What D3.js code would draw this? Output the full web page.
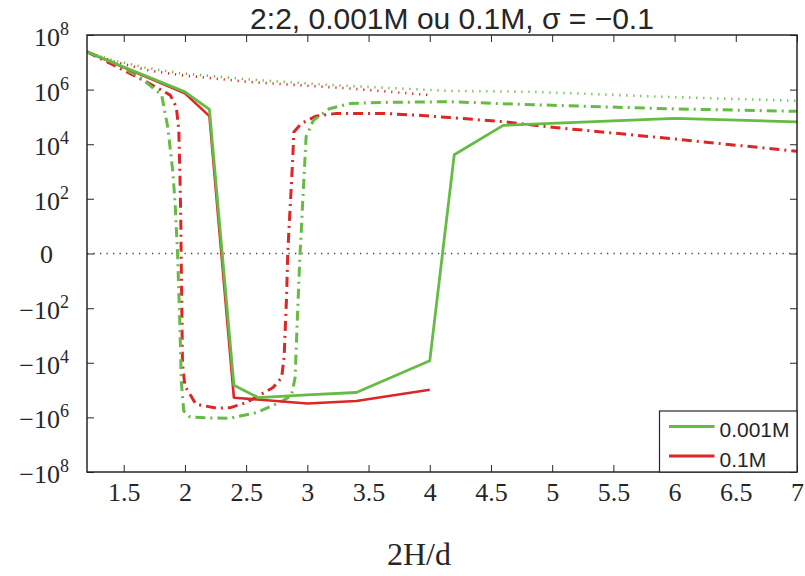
<!DOCTYPE html>
<html><head><meta charset="utf-8">
<script src="https://cdn.jsdelivr.net/npm/d3@7"></script>
<style>
html,body{margin:0;padding:0;background:#fff;}
svg{display:block;}
</style></head>
<body>
<script>
// ---- data ----
const title = "2:2, 0.001M ou 0.1M, \u03C3 = \u22120.1";
const xLabel = "2H/d";
const seriesNames = ["0.001M", "0.1M"];
const xTicks = [1.5, 2, 2.5, 3, 3.5, 4, 4.5, 5, 5.5, 6, 6.5, 7];
const yTicks = [-1e8, -1e6, -1e4, -1e2, 0, 1e2, 1e4, 1e6, 1e8];
const yTickBase = ["\u221210", "\u221210", "\u221210", "\u221210", "0", "10", "10", "10", "10"];
const yTickExp = ["8", "6", "4", "2", "", "2", "4", "6", "8"];

// 0.001M, solid
const xSolidG = [1.2, 2.0, 2.2, 2.4, 2.6, 3.0, 3.4, 4.0, 4.2, 4.6, 6.0, 7.0];
const ySolidG = [2.4e7, 8.3e5, 1.9e5, -6.6e4, -1.9e5, -1.5e5, -1.23e5, -8.5e3, 4.1e3, 4.9e4, 8.8e4, 6.6e4];
// 0.1M, solid
const xSolidR = [1.2, 2.0, 2.2, 2.4, 3.0, 3.4, 4.0];
const ySolidR = [2.4e7, 7.3e5, 1.07e5, -1.9e5, -3.1e5, -2.5e5, -9.8e4];

// 0.001M, dash-dot
const xDashG = [1.2, 1.41, 1.63, 1.81, 1.86, 1.90, 1.92, 1.93, 1.94, 1.96, 1.97, 1.99, 2.04, 2.18, 2.37, 2.59, 2.77, 2.87, 2.90, 2.92, 2.94, 2.95, 2.96, 2.98, 2.99, 3.05, 3.18, 3.35, 3.61, 4.16, 4.85, 5.94, 7.0];
const yDashG = [2.4e7, 1e7, 2.9e6, 6.3e5, 4.2e4, 1.1e3, 68, 7, 0, -670, -4.6e4, -5.8e5, -9.6e5, -1.05e6, -1.07e6, -6.6e5, -2.9e5, -1.6e5, -3.5e4, -160, 0, 4.6, 50, 2.6e3, 1.9e4, 7.6e4, 2e5, 3.1e5, 3.4e5, 3.6e5, 2.8e5, 2e5, 1.6e5];
// 0.1M, dash-dot
const xDashR = [1.2, 1.47, 1.66, 1.80, 1.88, 1.93, 1.95, 1.96, 1.967, 1.969, 1.972, 1.98, 2.0, 2.09, 2.26, 2.37, 2.50, 2.72, 2.79, 2.81, 2.83, 2.84, 2.85, 2.86, 2.88, 2.89, 2.95, 3.07, 3.24, 3.62, 3.89, 4.16, 4.6, 5.0, 5.94, 7.0];
const yDashR = [2.4e7, 6e6, 2.2e6, 1e6, 6.3e5, 2.3e5, 3.3e4, 480, 9, 0, -10, -1.1e4, -7e4, -3.3e5, -4.6e5, -4.4e5, -2.9e5, -8.1e4, -3.5e4, -6.4e3, -40, 0, 7, 50, 2.6e3, 2.8e4, 5.7e4, 1.07e5, 1.35e5, 1.35e5, 1.16e5, 9.5e4, 6.7e4, 4.2e4, 1.66e4, 5.5e3];

// 0.001M, dotted
const xDotG = [1.2, 1.41, 1.69, 1.96, 2.5, 3.16, 3.75, 4.16, 4.85, 5.94, 7.0];
const yDotG = [2.4e7, 1.2e7, 6.2e6, 4e6, 2.4e6, 1.5e6, 1.1e6, 9e5, 8.3e5, 5.4e5, 3.9e5];
// 0.1M, dotted
const xDotR = [1.2, 1.41, 1.69, 1.96, 2.53, 3.35, 4.0];
const yDotR = [2.4e7, 1.1e7, 5.2e6, 3.4e6, 1.9e6, 1.1e6, 6.3e5];

// ---- layout ----
const W = 805, H = 576;
const m = {left: 87, right: 8, top: 35, bottom: 104};
const green = "#66bb44", red = "#dd2626", ink = "#262626";
const serif = "'Liberation Serif','Times New Roman',serif";
const sans = "'Liberation Sans',Arial,Helvetica,sans-serif";

const svg = d3.select("body").append("svg").attr("width", W).attr("height", H);
const x = d3.scaleLinear().domain([1.2, 7]).range([m.left, W - m.right]);
const y = d3.scaleSymlog().constant(1).domain([-1e8, 1e8]).range([H - m.bottom, m.top]);

const plot = svg.append("g");
plot.append("defs").append("clipPath").attr("id", "clip")
  .append("rect").attr("x", m.left).attr("y", m.top)
  .attr("width", W - m.left - m.right).attr("height", H - m.top - m.bottom);

// zero line
plot.append("line").attr("x1", x(1.2)).attr("x2", x(7)).attr("y1", y(0)).attr("y2", y(0))
  .attr("stroke", "#444").attr("stroke-width", 1.3).attr("stroke-dasharray", "1.3,5.2");

const line = d3.line().x(d => x(d[0])).y(d => y(d[1]));
const zip = (a, b) => a.map((v, i) => [v, b[i]]);

const lines = [
  {xs: xDotR, ys: yDotR, c: red, w: 2.6, dash: "1.2,5.8"},
  {xs: xDotG, ys: yDotG, c: green, w: 2.6, dash: "1.2,5.8", off: 3.5},
  {xs: xDashR, ys: yDashR, c: red, w: 3, dash: "10,5,2,5"},
  {xs: xDashG, ys: yDashG, c: green, w: 3, dash: "10,5,2,5"},
  {xs: xSolidR, ys: ySolidR, c: red, w: 2.6},
  {xs: xSolidG, ys: ySolidG, c: green, w: 2.8},
];
const lg = plot.append("g").attr("clip-path", "url(#clip)");
lines.forEach(s => {
  lg.append("path").attr("d", line(zip(s.xs, s.ys)))
    .attr("fill", "none").attr("stroke", s.c).attr("stroke-width", s.w)
    .attr("stroke-linejoin", "round")
    .attr("stroke-dasharray", s.dash || null)
    .attr("stroke-dashoffset", s.off || 0);
});

// axes (ticks inside, mirrored)
const tl = 7;
const axB = svg.append("g").attr("transform", `translate(0,${H - m.bottom})`)
  .call(d3.axisBottom(x).tickValues(xTicks).tickSize(-tl).tickFormat(d3.format("")));
axB.selectAll("text").attr("font-family", serif).attr("font-size", 26).attr("fill", ink).attr("dy", "0.71em").attr("y", 11);
const axT = svg.append("g").attr("transform", `translate(0,${m.top})`)
  .call(d3.axisTop(x).tickValues(xTicks).tickSize(-tl).tickFormat(""));
const axL = svg.append("g").attr("transform", `translate(${m.left},0)`)
  .call(d3.axisLeft(y).tickValues(yTicks).tickSize(-tl).tickFormat(""));
const axR = svg.append("g").attr("transform", `translate(${W - m.right},0)`)
  .call(d3.axisRight(y).tickValues(yTicks).tickSize(-tl).tickFormat(""));
[axB, axT, axL, axR].forEach(a => {
  a.select(".domain").remove();
  a.selectAll(".tick line").attr("stroke", ink).attr("stroke-width", 1);
});

// y tick labels with superscripts
const yl = svg.append("g");
yTicks.forEach((v, i) => {
  const t = yl.append("text").attr("font-family", serif).attr("font-size", 26).attr("fill", ink)
    .attr("text-anchor", "end");
  if (yTickExp[i] === "") {
    t.attr("x", 53).attr("y", y(v) + 9).text(yTickBase[i]);
  } else {
    t.attr("x", 69).attr("y", y(v) + 11);
    t.append("tspan").text(yTickBase[i]);
    t.append("tspan").attr("font-size", 18).attr("dy", -11).text(yTickExp[i]);
  }
});

// frame
svg.append("rect").attr("x", m.left).attr("y", m.top)
  .attr("width", W - m.left - m.right).attr("height", H - m.top - m.bottom)
  .attr("fill", "none").attr("stroke", ink).attr("stroke-width", 1.5);

// title & x label
svg.append("text").attr("x", 452).attr("y", 29).attr("text-anchor", "middle")
  .attr("font-family", sans).attr("font-size", 30).attr("fill", ink).text(title);
svg.append("text").attr("x", 419).attr("y", 565).attr("text-anchor", "middle")
  .attr("font-family", serif).attr("font-size", 32).attr("fill", ink).text(xLabel);

// legend
const lgx = 659.5, lgy = 411;
svg.append("rect").attr("x", lgx).attr("y", lgy).attr("width", W - m.right - lgx).attr("height", H - m.bottom - lgy)
  .attr("fill", "#fff").attr("stroke", ink).attr("stroke-width", 1.2);
[green, red].forEach((c, i) => {
  const yy = 426.5 + i * 29.5;
  svg.append("line").attr("x1", 669).attr("x2", 714.5).attr("y1", yy).attr("y2", yy)
    .attr("stroke", c).attr("stroke-width", 2.8);
  svg.append("text").attr("x", 719.5).attr("y", yy + 10.5).attr("font-family", sans)
    .attr("font-size", 21).attr("fill", ink).text(seriesNames[i]);
});
</script>
</body></html>
